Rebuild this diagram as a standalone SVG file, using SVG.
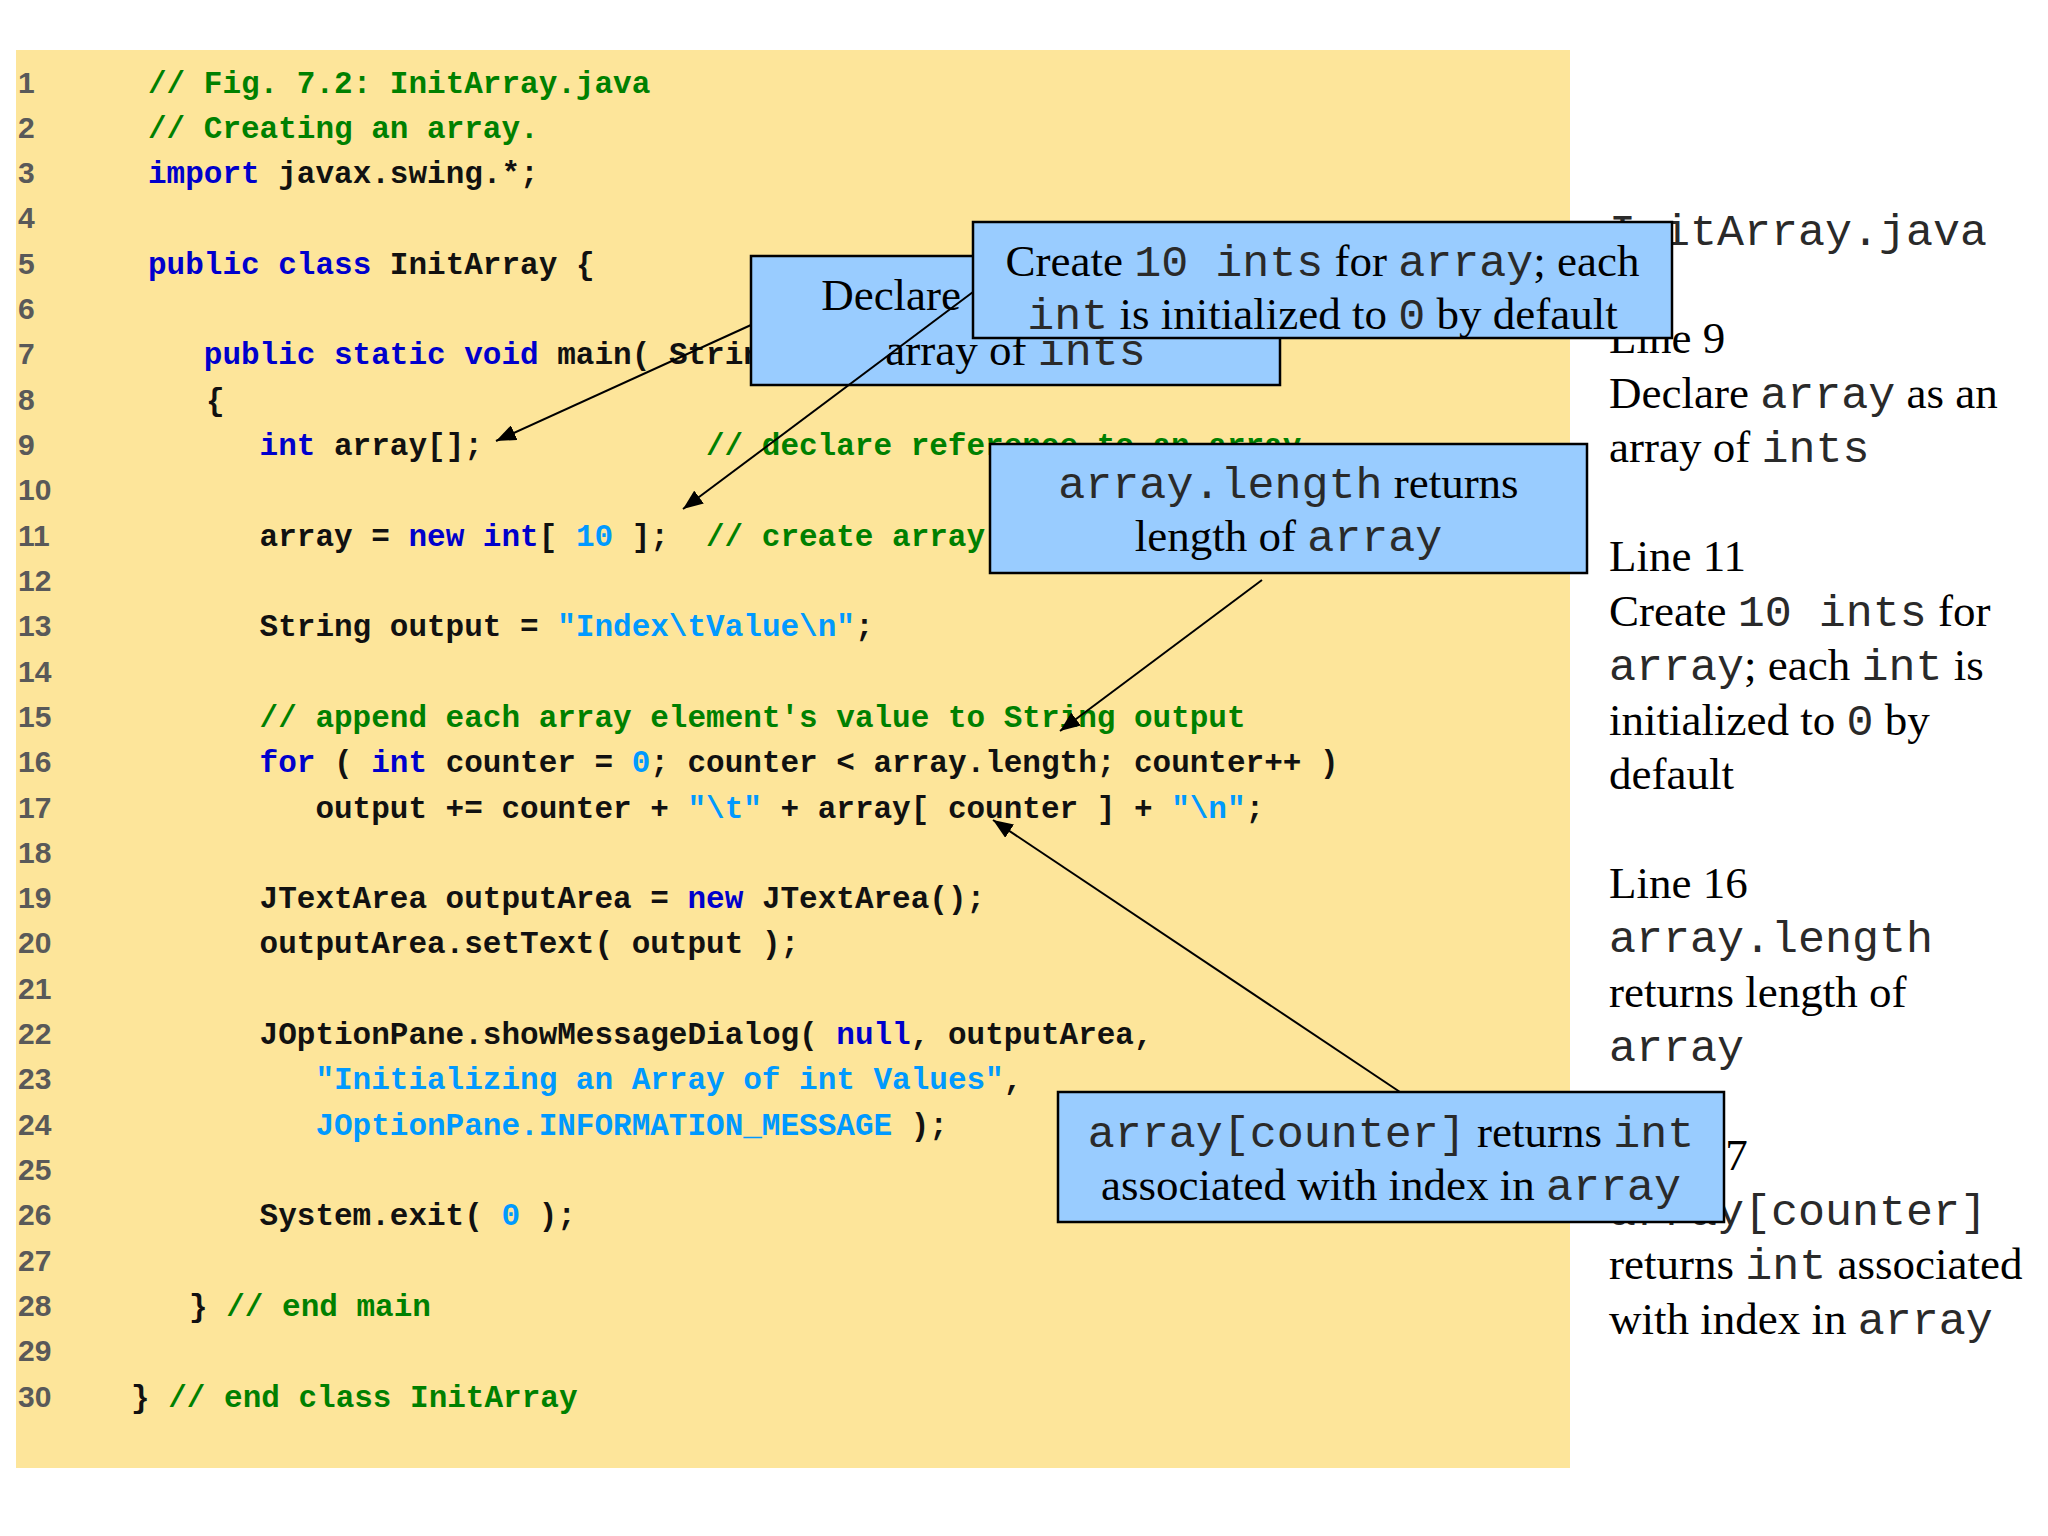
<svg xmlns="http://www.w3.org/2000/svg" width="2048" height="1536" viewBox="0 0 2048 1536">
<style>
.code{font-family:"Liberation Mono","Courier New",monospace;font-weight:bold;font-size:31px;fill:#111;white-space:pre}
.ln{font-family:"Liberation Sans",Arial,sans-serif;font-weight:bold;font-size:30px;fill:#595959}
.c{fill:#008000}
.k{fill:#0000CC}
.s{fill:#0099FF}
.note{font-family:"Liberation Serif","Times New Roman",serif;font-size:45px;fill:#000}
.m{font-family:"Liberation Mono","Courier New",monospace;fill:#2a2a2a}
.box{fill:#99CCFF;stroke:#000;stroke-width:2.5}
.conn{stroke:#000;stroke-width:2;fill:none;marker-end:url(#ah)}
</style>
<defs>
<marker id="ah" markerUnits="userSpaceOnUse" markerWidth="22" markerHeight="16" refX="20" refY="8" orient="auto">
<path d="M0,0 L20,8 L0,16 Z" fill="#000"/>
</marker>
</defs>
<rect x="0" y="0" width="2048" height="1536" fill="#fff"/>
<rect x="16" y="50" width="1554" height="1418" fill="#FDE59A"/>

<g id="line-numbers" class="ln">
<text x="18" y="92.5">1</text>
<text x="18" y="137.8">2</text>
<text x="18" y="183.1">3</text>
<text x="18" y="228.4">4</text>
<text x="18" y="273.7">5</text>
<text x="18" y="319.1">6</text>
<text x="18" y="364.4">7</text>
<text x="18" y="409.7">8</text>
<text x="18" y="455.0">9</text>
<text x="18" y="500.3">10</text>
<text x="18" y="545.6">11</text>
<text x="18" y="590.9">12</text>
<text x="18" y="636.2">13</text>
<text x="18" y="681.5">14</text>
<text x="18" y="726.9">15</text>
<text x="18" y="772.2">16</text>
<text x="18" y="817.5">17</text>
<text x="18" y="862.8">18</text>
<text x="18" y="908.1">19</text>
<text x="18" y="953.4">20</text>
<text x="18" y="998.7">21</text>
<text x="18" y="1044.1">22</text>
<text x="18" y="1089.4">23</text>
<text x="18" y="1134.7">24</text>
<text x="18" y="1180.0">25</text>
<text x="18" y="1225.3">26</text>
<text x="18" y="1270.6">27</text>
<text x="18" y="1315.9">28</text>
<text x="18" y="1361.2">29</text>
<text x="18" y="1406.5">30</text>
</g>

<g id="code" class="code">
<text xml:space="preserve" x="148" y="92.5"><tspan class="c">// Fig. 7.2: InitArray.java</tspan></text>
<text xml:space="preserve" x="148" y="137.8"><tspan class="c">// Creating an array.</tspan></text>
<text xml:space="preserve" x="148" y="183.1"><tspan class="k">import</tspan> javax.swing.*;</text>
<text xml:space="preserve" x="148" y="273.7"><tspan class="k">public class</tspan> InitArray {</text>
<text xml:space="preserve" x="203.8" y="364.4"><tspan class="k">public static void</tspan> main( String args[] )</text>
<text xml:space="preserve" x="206" y="409.7">{</text>
<text xml:space="preserve" x="259.6" y="455.0"><tspan class="k">int</tspan> array[];</text>
<text xml:space="preserve" x="706" y="455.0"><tspan class="c">// declare reference to an array</tspan></text>
<text xml:space="preserve" x="259.6" y="545.6">array = <tspan class="k">new</tspan> <tspan class="k">int</tspan>[ <tspan class="s">10</tspan> ];</text>
<text xml:space="preserve" x="706" y="545.6"><tspan class="c">// create array</tspan></text>
<text xml:space="preserve" x="259.6" y="636.2">String output = <tspan class="s">"Index\tValue\n"</tspan>;</text>
<text xml:space="preserve" x="259.6" y="726.9"><tspan class="c">// append each array element's value to String output</tspan></text>
<text xml:space="preserve" x="259.6" y="772.2"><tspan class="k">for</tspan> ( <tspan class="k">int</tspan> counter = <tspan class="s">0</tspan>; counter &lt; array.length; counter++ )</text>
<text xml:space="preserve" x="315.4" y="817.5">output += counter + <tspan class="s">"\t"</tspan> + array[ counter ] + <tspan class="s">"\n"</tspan>;</text>
<text xml:space="preserve" x="259.6" y="908.1">JTextArea outputArea = <tspan class="k">new</tspan> JTextArea();</text>
<text xml:space="preserve" x="259.6" y="953.4">outputArea.setText( output );</text>
<text xml:space="preserve" x="259.6" y="1044.1">JOptionPane.showMessageDialog( <tspan class="k">null</tspan>, outputArea,</text>
<text xml:space="preserve" x="315.4" y="1089.4"><tspan class="s">"Initializing an Array of int Values"</tspan>,</text>
<text xml:space="preserve" x="315.4" y="1134.7"><tspan class="s">JOptionPane.INFORMATION_MESSAGE</tspan> );</text>
<text xml:space="preserve" x="259.6" y="1225.3">System.exit( <tspan class="s">0</tspan> );</text>
<text xml:space="preserve" x="189" y="1315.9">} <tspan class="c">// end main</tspan></text>
<text xml:space="preserve" x="131" y="1406.5">} <tspan class="c">// end class InitArray</tspan></text>
</g>

<g id="side-notes" class="note">
<text x="1609" y="244.5"><tspan class="m">InitArray.java</tspan></text>
<text x="1609" y="353.4">Line 9</text>
<text x="1609" y="407.9">Declare <tspan class="m">array</tspan> as an</text>
<text x="1609" y="462.3">array of <tspan class="m">ints</tspan></text>
<text x="1609" y="571.2">Line 11</text>
<text x="1609" y="625.7">Create <tspan class="m">10 ints</tspan> for</text>
<text x="1609" y="680.1"><tspan class="m">array</tspan>; each <tspan class="m">int</tspan> is</text>
<text x="1609" y="734.6">initialized to <tspan class="m">0</tspan> by</text>
<text x="1609" y="789.0">default</text>
<text x="1609" y="897.9">Line 16</text>
<text x="1609" y="952.4"><tspan class="m">array.length</tspan></text>
<text x="1609" y="1006.8">returns length of</text>
<text x="1609" y="1061.3"><tspan class="m">array</tspan></text>
<text x="1609" y="1170.2">Line 17</text>
<text x="1609" y="1224.6"><tspan class="m">array[counter]</tspan></text>
<text x="1609" y="1279.1">returns <tspan class="m">int</tspan> associated</text>
<text x="1609" y="1333.5">with index in <tspan class="m">array</tspan></text>
</g>

<g id="callout-declare">
<rect class="box" x="751" y="256" width="529" height="129"/>
<text class="note" x="1015.5" y="310" text-anchor="middle">Declare <tspan class="m">array</tspan> as an</text>
<text class="note" x="1015.5" y="365" text-anchor="middle">array of <tspan class="m">ints</tspan></text>
</g>

<g id="callout-length">
<rect class="box" x="990" y="444" width="597" height="129"/>
<text class="note" x="1288.5" y="498" text-anchor="middle"><tspan class="m">array.length</tspan> returns</text>
<text class="note" x="1288.5" y="551" text-anchor="middle">length of <tspan class="m">array</tspan></text>
</g>

<g id="callout-counter">
<rect class="box" x="1058" y="1092" width="666" height="130"/>
<text class="note" x="1391" y="1147" text-anchor="middle"><tspan class="m">array[counter]</tspan> returns <tspan class="m">int</tspan></text>
<text class="note" x="1391" y="1200" text-anchor="middle">associated with index in <tspan class="m">array</tspan></text>
</g>

<g id="callout-create">
<rect class="box" x="973" y="222" width="699" height="116"/>
<text class="note" x="1322.5" y="276" text-anchor="middle">Create <tspan class="m">10 ints</tspan> for <tspan class="m">array</tspan>; each</text>
<text class="note" x="1322.5" y="329" text-anchor="middle"><tspan class="m">int</tspan> is initialized to <tspan class="m">0</tspan> by default</text>
</g>

<g id="connectors">
<line class="conn" x1="751" y1="325" x2="496" y2="441"/>
<line class="conn" x1="973" y1="292" x2="683" y2="509"/>
<line class="conn" x1="1262" y1="580" x2="1060" y2="731"/>
<line class="conn" x1="1400" y1="1092" x2="993" y2="820"/>
</g>
</svg>
